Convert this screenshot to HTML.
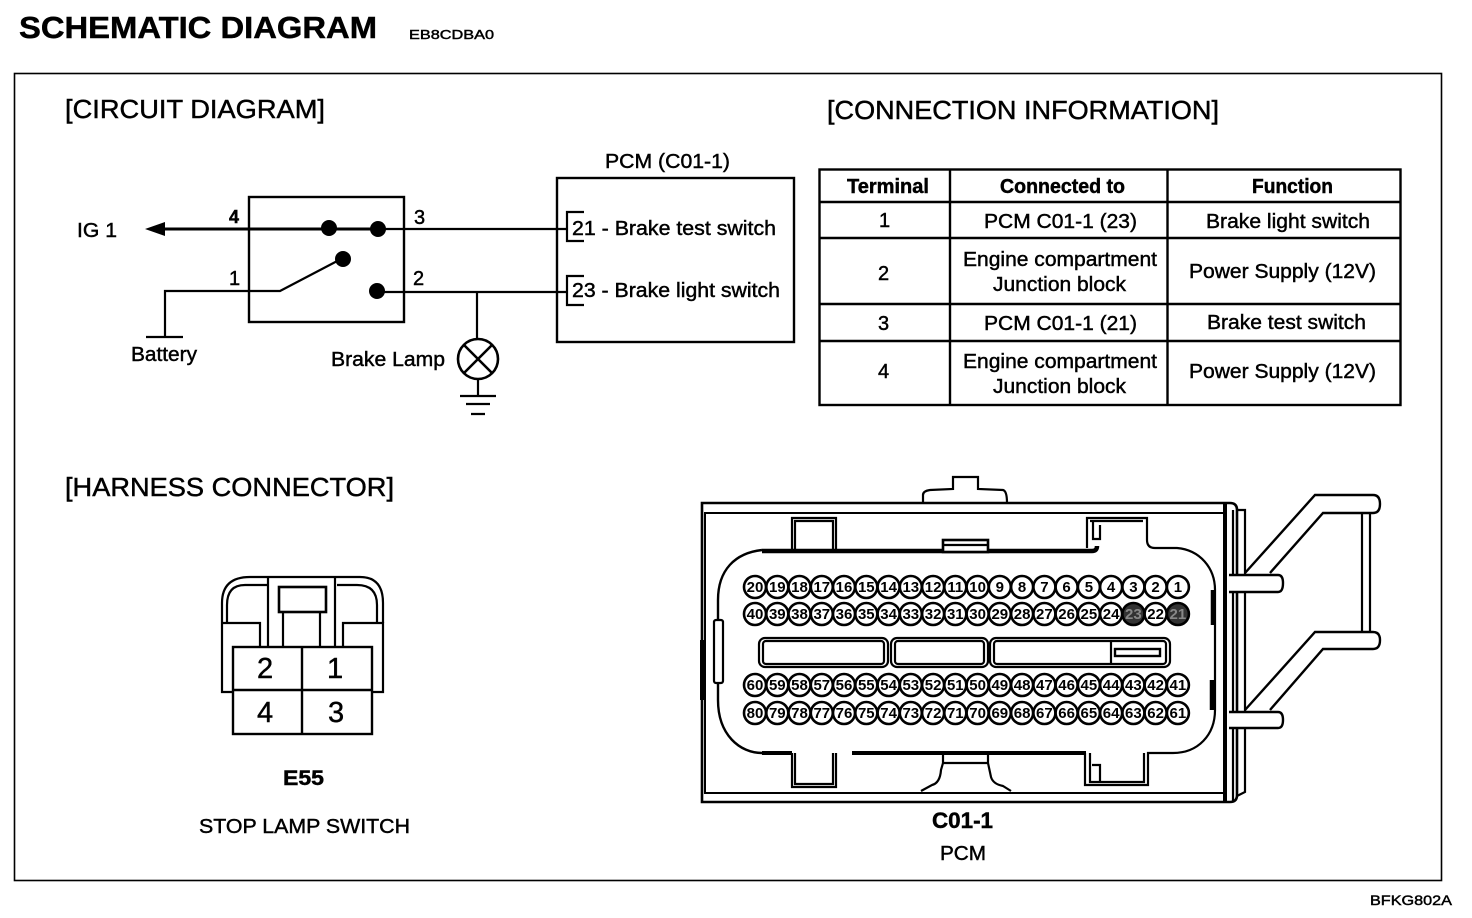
<!DOCTYPE html>
<html><head><meta charset="utf-8"><title>Schematic Diagram</title>
<style>
html,body{margin:0;padding:0;background:#fff}
svg{display:block}
text{font-family:"Liberation Sans",sans-serif;fill:#000;stroke:#000;stroke-width:.45}
.b{font-weight:bold}
.p circle{fill:#fff;stroke:#000;stroke-width:2.6}
.p text{font-size:15px;font-weight:bold;text-anchor:middle;stroke:none}
</style></head><body>
<svg width="1472" height="918" viewBox="0 0 1472 918" xmlns="http://www.w3.org/2000/svg">
<rect width="1472" height="918" fill="#fff"/>
<text class="b" x="19" y="38" font-size="31" textLength="358" lengthAdjust="spacingAndGlyphs">SCHEMATIC  DIAGRAM</text>
<text x="409" y="39" font-size="13" textLength="85" lengthAdjust="spacingAndGlyphs">EB8CDBA0</text>
<rect x="14.5" y="73.5" width="1427" height="807" fill="none" stroke="#000" stroke-width="1.6"/>
<text x="65" y="118" font-size="26" textLength="260" lengthAdjust="spacingAndGlyphs">[CIRCUIT DIAGRAM]</text>
<text x="827" y="119" font-size="26" textLength="392" lengthAdjust="spacingAndGlyphs">[CONNECTION INFORMATION]</text>
<text x="65" y="496" font-size="26" textLength="329" lengthAdjust="spacingAndGlyphs">[HARNESS CONNECTOR]</text>

<!-- circuit -->
<g fill="none" stroke="#000">
<rect x="249" y="197" width="155" height="125" stroke-width="2.4"/>
<path d="M160 229H378" stroke-width="3"/>
<path d="M378 229H566" stroke-width="2.2"/>
<path d="M165 337V291H280L343 258M377 292H566M477 292V339M478 379V395" stroke-width="2.2"/>
<path d="M146 337H183M460 396H496M466 404H490M471 414H485" stroke-width="2.2"/>
<circle cx="478" cy="359" r="20" stroke-width="2.6"/>
<path d="M464 345L492 373M492 345L464 373" stroke-width="2.6"/>
<rect x="557" y="178" width="237" height="164" stroke-width="2.4"/>
<path d="M584 212H567V241H584M584 276H567V305H584" stroke-width="2.2"/>
</g>
<path d="M145 229L165 222V236Z"/>
<circle cx="329" cy="228" r="8"/><circle cx="378" cy="229" r="8"/><circle cx="343" cy="259" r="8"/><circle cx="377" cy="291" r="8"/>
<g font-size="20">
<text x="77" y="237" textLength="40" lengthAdjust="spacingAndGlyphs">IG 1</text>
<text x="229" y="223" class="b" font-size="18">4</text>
<text x="414" y="224">3</text>
<text x="229" y="285">1</text>
<text x="413" y="285">2</text>
<text x="131" y="361" textLength="66" lengthAdjust="spacingAndGlyphs">Battery</text>
<text x="331" y="366" textLength="114" lengthAdjust="spacingAndGlyphs">Brake Lamp</text>
<text x="605" y="168" textLength="125" lengthAdjust="spacingAndGlyphs">PCM (C01-1)</text>
<text x="572" y="235" textLength="204" lengthAdjust="spacingAndGlyphs">21 - Brake test switch</text>
<text x="572" y="297" textLength="208" lengthAdjust="spacingAndGlyphs">23 - Brake light switch</text>
</g>

<!-- table -->
<g fill="none" stroke="#000" stroke-width="2.4">
<rect x="819.5" y="169.5" width="581" height="235.5"/>
<path d="M950 169V405M1167.500 169V405M819 202H1401M819 238H1401M819 304H1401M819 341H1401"/>
</g>
<g font-size="20">
<text class="b" x="847" y="193" textLength="82" lengthAdjust="spacingAndGlyphs">Terminal</text>
<text class="b" x="1000" y="193" textLength="125" lengthAdjust="spacingAndGlyphs">Connected to</text>
<text class="b" x="1252" y="193" textLength="81" lengthAdjust="spacingAndGlyphs">Function</text>
<text x="879" y="227">1</text>
<text x="984" y="228" textLength="153" lengthAdjust="spacingAndGlyphs">PCM C01-1 (23)</text>
<text x="1206" y="228" textLength="164" lengthAdjust="spacingAndGlyphs">Brake light switch</text>
<text x="878" y="280">2</text>
<text x="963" y="266" textLength="194" lengthAdjust="spacingAndGlyphs">Engine compartment</text>
<text x="993" y="291" textLength="133" lengthAdjust="spacingAndGlyphs">Junction block</text>
<text x="1189" y="278" textLength="187" lengthAdjust="spacingAndGlyphs">Power Supply (12V)</text>
<text x="878" y="330">3</text>
<text x="984" y="330" textLength="153" lengthAdjust="spacingAndGlyphs">PCM C01-1 (21)</text>
<text x="1207" y="329" textLength="159" lengthAdjust="spacingAndGlyphs">Brake test switch</text>
<text x="878" y="378">4</text>
<text x="963" y="368" textLength="194" lengthAdjust="spacingAndGlyphs">Engine compartment</text>
<text x="993" y="393" textLength="133" lengthAdjust="spacingAndGlyphs">Junction block</text>
<text x="1189" y="378" textLength="187" lengthAdjust="spacingAndGlyphs">Power Supply (12V)</text>
</g>

<!-- harness E55 -->
<g fill="none" stroke="#000" stroke-width="2.2">
<path d="M222 623V603Q222 577 250 577H360Q383 577 383 603V623"/>
<path d="M227 623V605Q227 585 245 585H268M337 585H357Q377 585 377 605V623"/>
<path d="M268 577V647M335 577V647"/>
<rect x="279" y="587" width="47" height="25" stroke-width="2.6"/>
<path d="M283 612V647M320 612V647"/>
<path d="M222 623H260V647M222 623V692H233M343 647V623H383V692H372"/>
<rect x="233" y="647" width="139" height="87" stroke-width="2.4"/>
<path d="M302 647V734M233 690H372" stroke-width="2.4"/>
</g>
<g font-size="29">
<text x="257" y="678">2</text><text x="327" y="678">1</text><text x="257" y="722">4</text><text x="328" y="722">3</text>
</g>
<text class="b" x="283" y="785" font-size="21" textLength="41" lengthAdjust="spacingAndGlyphs">E55</text>
<text x="199" y="833" font-size="20" textLength="211" lengthAdjust="spacingAndGlyphs">STOP LAMP SWITCH</text>

<!-- PCM connector -->
<g fill="none" stroke="#000" stroke-width="2.2">
<path d="M923 503V495Q923 491 930 490L953 489V477H978V489L1003 490Q1007 491 1007 503"/>
<path d="M702 503H1230Q1237 503 1237 510V795Q1237 802 1230 802H702Z" stroke-width="2.6"/>
<path d="M705 513H1225V793H705Z" stroke-width="2"/>
<path d="M1225 503V802" stroke-width="4"/>
<path d="M702 640V700" stroke-width="4"/>
<path d="M1237 510H1245V792L1237 796M1233 510V802"/>
<!-- inner shell -->
<path d="M762 550C735 553 718 570 718 600V700C718 735 740 753 762 753H792" stroke-width="2.4"/>
<path d="M762 551H1092Q1097 551 1097 546" stroke-width="4.500"/>
<path d="M852 753H1086" stroke-width="4"/>
<path d="M762 753H792" stroke-width="4"/>
<path d="M792 550V518H836V550M795 550V521H833V550M792 753V787H836V753M795 753V784H833V753"/>
<path d="M1087 548V518H1147V540Q1147 548 1155 548H1177C1200 550 1215 568 1215 590V710C1215 735 1198 753 1173 753H1148V785H1085V753"/>
<path d="M1090 521H1143M1090 753V782H1144V753M1093 521V539H1100V525M1092 765H1100V782"/>
<path d="M1213 590V625M1212 680V710" stroke-width="4.500"/>
<rect x="714" y="620" width="9" height="63" rx="2" fill="#fff"/>
<rect x="943" y="540" width="45" height="12" fill="#fff" stroke-width="2.6"/>
<path d="M943 545H988" />
<path d="M943 753V763L941 770Q940 783 932 785L921 791M988 753V763L991 777Q993 784 1003 786L1011 791M943 763H988"/>
<!-- slots -->
<rect x="759" y="638" width="129" height="29" rx="6"/>
<rect x="763" y="641" width="121" height="23" rx="3"/>
<rect x="891" y="638" width="97" height="29" rx="6"/>
<rect x="895" y="641" width="89" height="23" rx="3"/>
<rect x="990" y="638" width="180" height="29" rx="6"/>
<rect x="994" y="641" width="172" height="23" rx="3"/>
<path d="M1111 641V664"/>
<rect x="1115" y="649" width="45" height="7" stroke-width="2.4"/>
<!-- clip -->
<path d="M1245 573L1315 495H1373Q1380 495 1380 504Q1380 513 1373 513H1323L1270 573" stroke-width="2.4"/>
<path d="M1245 710L1315 632H1373Q1380 632 1380 640Q1380 649 1373 649H1323L1270 710" stroke-width="2.4"/>
<path d="M1362 513V632M1370 513V632"/>
<path d="M1229 575H1278Q1283 575 1283 583Q1283 592 1278 592H1229" fill="#fff" stroke-width="2.4"/>
<path d="M1229 712H1278Q1283 712 1283 720Q1283 728 1278 728H1229" fill="#fff" stroke-width="2.4"/>
</g>

<!-- pins -->
<g class="p">
<g transform="translate(0,587)">
<circle cx="755" r="11"/><text x="755" y="5">20</text>
<circle cx="777.300" r="11"/><text x="777.300" y="5">19</text>
<circle cx="799.500" r="11"/><text x="799.500" y="5">18</text>
<circle cx="821.800" r="11"/><text x="821.800" y="5">17</text>
<circle cx="844" r="11"/><text x="844" y="5">16</text>
<circle cx="866.300" r="11"/><text x="866.300" y="5">15</text>
<circle cx="888.600" r="11"/><text x="888.600" y="5">14</text>
<circle cx="910.800" r="11"/><text x="910.800" y="5">13</text>
<circle cx="933.100" r="11"/><text x="933.100" y="5">12</text>
<circle cx="955.300" r="11"/><text x="955.300" y="5">11</text>
<circle cx="977.600" r="11"/><text x="977.600" y="5">10</text>
<circle cx="999.800" r="11"/><text x="999.800" y="5">9</text>
<circle cx="1022.100" r="11"/><text x="1022.100" y="5">8</text>
<circle cx="1044.400" r="11"/><text x="1044.400" y="5">7</text>
<circle cx="1066.600" r="11"/><text x="1066.600" y="5">6</text>
<circle cx="1088.900" r="11"/><text x="1088.900" y="5">5</text>
<circle cx="1111.100" r="11"/><text x="1111.100" y="5">4</text>
<circle cx="1133.400" r="11"/><text x="1133.400" y="5">3</text>
<circle cx="1155.600" r="11"/><text x="1155.600" y="5">2</text>
<circle cx="1177.900" r="11"/><text x="1177.900" y="5">1</text>
</g>
<g transform="translate(0,614)">
<circle cx="755" r="11"/><text x="755" y="5">40</text>
<circle cx="777.300" r="11"/><text x="777.300" y="5">39</text>
<circle cx="799.500" r="11"/><text x="799.500" y="5">38</text>
<circle cx="821.800" r="11"/><text x="821.800" y="5">37</text>
<circle cx="844" r="11"/><text x="844" y="5">36</text>
<circle cx="866.300" r="11"/><text x="866.300" y="5">35</text>
<circle cx="888.600" r="11"/><text x="888.600" y="5">34</text>
<circle cx="910.800" r="11"/><text x="910.800" y="5">33</text>
<circle cx="933.100" r="11"/><text x="933.100" y="5">32</text>
<circle cx="955.300" r="11"/><text x="955.300" y="5">31</text>
<circle cx="977.600" r="11"/><text x="977.600" y="5">30</text>
<circle cx="999.800" r="11"/><text x="999.800" y="5">29</text>
<circle cx="1022.100" r="11"/><text x="1022.100" y="5">28</text>
<circle cx="1044.400" r="11"/><text x="1044.400" y="5">27</text>
<circle cx="1066.600" r="11"/><text x="1066.600" y="5">26</text>
<circle cx="1088.900" r="11"/><text x="1088.900" y="5">25</text>
<circle cx="1111.100" r="11"/><text x="1111.100" y="5">24</text>
<circle cx="1133.400" r="11" style="fill:#333"/><text x="1133.400" y="5" style="fill:#888">23</text>
<circle cx="1155.600" r="11"/><text x="1155.600" y="5">22</text>
<circle cx="1177.900" r="11" style="fill:#333"/><text x="1177.900" y="5" style="fill:#888">21</text>
</g>
<g transform="translate(0,685)">
<circle cx="755" r="11"/><text x="755" y="5">60</text>
<circle cx="777.300" r="11"/><text x="777.300" y="5">59</text>
<circle cx="799.500" r="11"/><text x="799.500" y="5">58</text>
<circle cx="821.800" r="11"/><text x="821.800" y="5">57</text>
<circle cx="844" r="11"/><text x="844" y="5">56</text>
<circle cx="866.300" r="11"/><text x="866.300" y="5">55</text>
<circle cx="888.600" r="11"/><text x="888.600" y="5">54</text>
<circle cx="910.800" r="11"/><text x="910.800" y="5">53</text>
<circle cx="933.100" r="11"/><text x="933.100" y="5">52</text>
<circle cx="955.300" r="11"/><text x="955.300" y="5">51</text>
<circle cx="977.600" r="11"/><text x="977.600" y="5">50</text>
<circle cx="999.800" r="11"/><text x="999.800" y="5">49</text>
<circle cx="1022.100" r="11"/><text x="1022.100" y="5">48</text>
<circle cx="1044.400" r="11"/><text x="1044.400" y="5">47</text>
<circle cx="1066.600" r="11"/><text x="1066.600" y="5">46</text>
<circle cx="1088.900" r="11"/><text x="1088.900" y="5">45</text>
<circle cx="1111.100" r="11"/><text x="1111.100" y="5">44</text>
<circle cx="1133.400" r="11"/><text x="1133.400" y="5">43</text>
<circle cx="1155.600" r="11"/><text x="1155.600" y="5">42</text>
<circle cx="1177.900" r="11"/><text x="1177.900" y="5">41</text>
</g>
<g transform="translate(0,713)">
<circle cx="755" r="11"/><text x="755" y="5">80</text>
<circle cx="777.300" r="11"/><text x="777.300" y="5">79</text>
<circle cx="799.500" r="11"/><text x="799.500" y="5">78</text>
<circle cx="821.800" r="11"/><text x="821.800" y="5">77</text>
<circle cx="844" r="11"/><text x="844" y="5">76</text>
<circle cx="866.300" r="11"/><text x="866.300" y="5">75</text>
<circle cx="888.600" r="11"/><text x="888.600" y="5">74</text>
<circle cx="910.800" r="11"/><text x="910.800" y="5">73</text>
<circle cx="933.100" r="11"/><text x="933.100" y="5">72</text>
<circle cx="955.300" r="11"/><text x="955.300" y="5">71</text>
<circle cx="977.600" r="11"/><text x="977.600" y="5">70</text>
<circle cx="999.800" r="11"/><text x="999.800" y="5">69</text>
<circle cx="1022.100" r="11"/><text x="1022.100" y="5">68</text>
<circle cx="1044.400" r="11"/><text x="1044.400" y="5">67</text>
<circle cx="1066.600" r="11"/><text x="1066.600" y="5">66</text>
<circle cx="1088.900" r="11"/><text x="1088.900" y="5">65</text>
<circle cx="1111.100" r="11"/><text x="1111.100" y="5">64</text>
<circle cx="1133.400" r="11"/><text x="1133.400" y="5">63</text>
<circle cx="1155.600" r="11"/><text x="1155.600" y="5">62</text>
<circle cx="1177.900" r="11"/><text x="1177.900" y="5">61</text>
</g>
</g>

<text class="b" x="932" y="828" font-size="22" textLength="61" lengthAdjust="spacingAndGlyphs">C01-1</text>
<text x="940" y="860" font-size="20" textLength="46" lengthAdjust="spacingAndGlyphs">PCM</text>
<text x="1370" y="905" font-size="14" textLength="82" lengthAdjust="spacingAndGlyphs">BFKG802A</text>
</svg>
</body></html>
